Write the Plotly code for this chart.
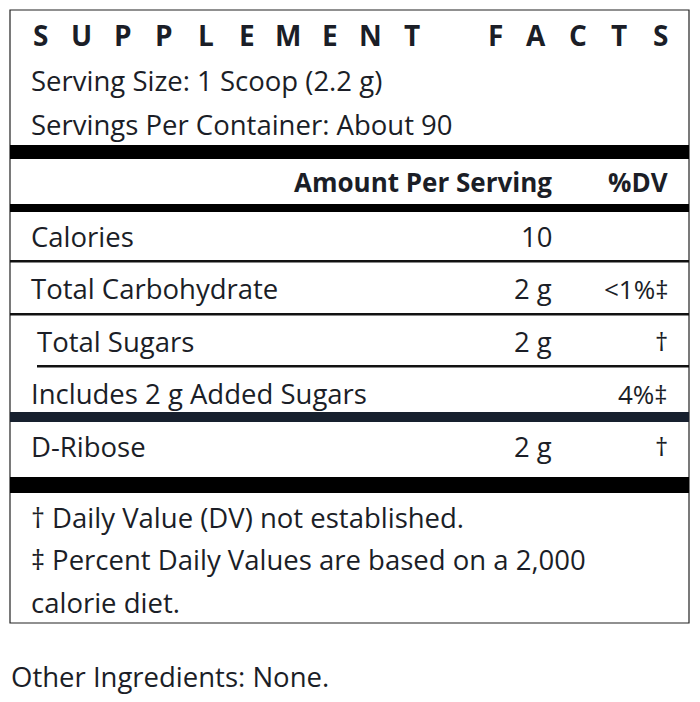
import plotly.graph_objects as go

# Label content
title_words = ["SUPPLEMENT", "FACTS"]
serving_info = ["Serving Size: 1 Scoop (2.2 g)", "Servings Per Container: About 90"]
header_labels = ["Amount Per Serving", "%DV"]
nutrients = ["Calories", "Total Carbohydrate", "Total Sugars",
             "Includes 2 g Added Sugars", "D-Ribose"]
amounts = ["10", "2 g", "2 g", "", "2 g"]
daily_values = ["", "<1%‡", "†", "4%‡", "†"]
indented = [False, False, True, False, False]
footnotes = ["† Daily Value (DV) not established.",
             "‡ Percent Daily Values are based on a 2,000",
             "calorie diet."]
other_ingredients = "Other Ingredients: None."

# Layout settings (pixels, y grows downward)
W, H = 700, 702
OFF = 8  # page body margin, so data units line up with screen pixels
BOX_L, BOX_R, BOX_T, BOX_B = 10, 689, 10, 623
TEXT_X = 29
AMT_X = 554
DV_X = 670
ROW_Y0, ROW_STEP = 236, 52.5
INK = "#1b1e27"
FONT = "Open Sans"
FS = 27.5

fig = go.Figure()
shapes = []
annotations = []


def bar(y0, y1, x0=BOX_L, x1=BOX_R, color="black"):
    shapes.append(dict(type="rect", xref="x", yref="y", x0=x0, x1=x1, y0=y0, y1=y1,
                       fillcolor=color, line=dict(width=0), layer="above"))


def text(x, y, s, anchor="left", bold=False, size=FS):
    annotations.append(dict(x=x, y=y, xref="x", yref="y", text=s, showarrow=False,
                            xanchor=anchor, yanchor="middle",
                            font=dict(family=FONT, size=size, color=INK,
                                      weight="bold" if bold else "normal")))


# outer box
shapes.append(dict(type="rect", xref="x", yref="y", x0=BOX_L, x1=BOX_R, y0=BOX_T, y1=BOX_B,
                   line=dict(color="#222222", width=1.2), fillcolor="rgba(0,0,0,0)"))

# spaced-out title, one letter at a time
pitch = 41.3
for i, ch in enumerate(title_words[0]):
    text(40.5 + pitch * i, 35, ch, anchor="center", bold=True, size=28)
for i, ch in enumerate(title_words[1]):
    text(495 + pitch * i, 35, ch, anchor="center", bold=True, size=28)

# serving info
for i, s in enumerate(serving_info):
    text(TEXT_X, 80 + 44 * i, s)

# header
bar(145, 159)
text(AMT_X, 182, header_labels[0], anchor="right", bold=True, size=26)
text(DV_X, 182, header_labels[1], anchor="right", bold=True, size=26)
bar(204, 212)

# nutrient rows
for i, name in enumerate(nutrients):
    y = ROW_Y0 + ROW_STEP * i
    text(TEXT_X + (6 if indented[i] else 0), y, name)
    if amounts[i]:
        text(AMT_X, y, amounts[i], anchor="right")
    if daily_values[i]:
        text(DV_X, y, daily_values[i], anchor="right", size=26)

# row separators
bar(260, 262.5, color="#111111")
bar(313, 315.5, color="#111111")
bar(365, 367.5, x0=37, color="#111111")
bar(412, 422, color="#17202e")
bar(477, 493)

# footnotes
for i, s in enumerate(footnotes):
    text(TEXT_X, 517 + 42.5 * i, s)

text(9, 676, other_ingredients)

fig.update_layout(
    width=W, height=H,
    margin=dict(l=0, r=0, t=0, b=0),
    paper_bgcolor="white", plot_bgcolor="white",
    xaxis=dict(range=[OFF, W + OFF], visible=False, fixedrange=True),
    yaxis=dict(range=[H + OFF, OFF], visible=False, fixedrange=True),
    shapes=shapes, annotations=annotations,
    showlegend=False,
)

fig.write_html("out.html")
